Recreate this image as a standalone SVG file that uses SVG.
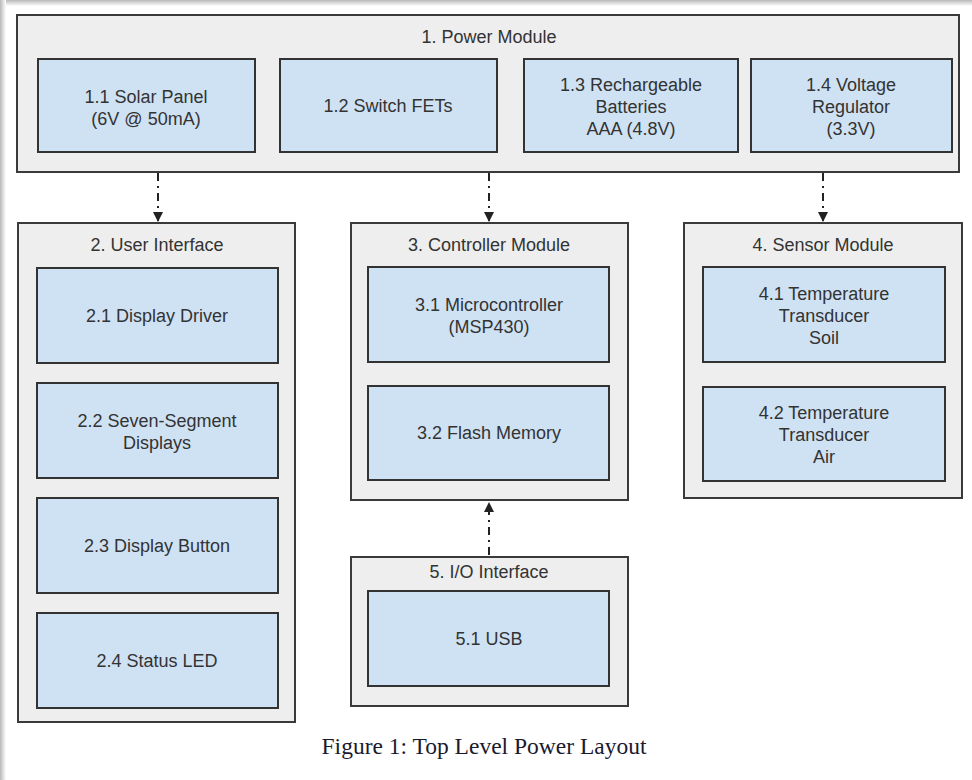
<svg xmlns="http://www.w3.org/2000/svg" width="972" height="780" viewBox="0 0 972 780">
<defs>
<linearGradient id="gTop" x1="0" y1="0" x2="0" y2="1"><stop offset="0" stop-color="#b8b8b8"/><stop offset="1" stop-color="#ffffff"/></linearGradient>
<linearGradient id="gLeft" x1="0" y1="0" x2="1" y2="0"><stop offset="0" stop-color="#b8b8b8"/><stop offset="1" stop-color="#ffffff"/></linearGradient>
<marker id="arr" viewBox="0 0 10 10" refX="9" refY="5" markerWidth="11" markerHeight="10" orient="auto-start-reverse" markerUnits="userSpaceOnUse">
<path d="M0,0 L10,5 L0,10 z" fill="#222"/>
</marker>
<style>
.outer{fill:#eeeeee;stroke:#3a3a3a;stroke-width:2}
.inner{fill:#cfe2f3;stroke:#333;stroke-width:2}
.t{font-family:"Liberation Sans",Arial,sans-serif;font-size:18px;fill:#333;text-anchor:middle}
.conn{stroke:#222;stroke-width:2;fill:none;stroke-dasharray:8,5,2,5}
.cap{font-family:"Liberation Serif","Times New Roman",serif;font-size:23.5px;fill:#1a1a2e;text-anchor:middle}
</style>
</defs>
<rect width="972" height="780" fill="#fff"/>
<rect x="0" y="0" width="972" height="6" fill="url(#gTop)"/>
<rect x="0" y="0" width="6" height="780" fill="url(#gLeft)"/>

<g id="power">
<rect class="outer" x="17" y="15" width="942" height="157"/>
<text class="t" x="489" y="43">1. Power Module</text>
</g>
<g id="n11"><rect class="inner" x="38" y="59" width="217" height="93"/>
<text class="t" x="146" y="103">1.1 Solar Panel</text><text class="t" x="146" y="125">(6V @ 50mA)</text></g>
<g id="n12"><rect class="inner" x="280" y="59" width="217" height="93"/>
<text class="t" x="388" y="112">1.2 Switch FETs</text></g>
<g id="n13"><rect class="inner" x="524" y="59" width="214" height="93"/>
<text class="t" x="631" y="91">1.3 Rechargeable</text><text class="t" x="631" y="113">Batteries</text><text class="t" x="631" y="135">AAA (4.8V)</text></g>
<g id="n14"><rect class="inner" x="751" y="59" width="201" height="93"/>
<text class="t" x="851" y="91">1.4 Voltage</text><text class="t" x="851" y="113">Regulator</text><text class="t" x="851" y="135">(3.3V)</text></g>

<g id="ui">
<rect class="outer" x="18" y="223" width="277" height="499"/>
<text class="t" x="157" y="251">2. User Interface</text>
</g>
<g id="n21"><rect class="inner" x="37" y="268" width="241" height="95"/><text class="t" x="157" y="322">2.1 Display Driver</text></g>
<g id="n22"><rect class="inner" x="37" y="383" width="241" height="95"/><text class="t" x="157" y="427">2.2 Seven-Segment</text><text class="t" x="157" y="449">Displays</text></g>
<g id="n23"><rect class="inner" x="37" y="498" width="241" height="95"/><text class="t" x="157" y="552">2.3 Display Button</text></g>
<g id="n24"><rect class="inner" x="37" y="613" width="241" height="95"/><text class="t" x="157" y="667">2.4 Status LED</text></g>

<g id="ctrl">
<rect class="outer" x="351" y="223" width="277" height="277"/>
<text class="t" x="489" y="251">3. Controller Module</text>
</g>
<g id="n31"><rect class="inner" x="368" y="267" width="241" height="95"/><text class="t" x="489" y="311">3.1 Microcontroller</text><text class="t" x="489" y="333">(MSP430)</text></g>
<g id="n32"><rect class="inner" x="368" y="386" width="241" height="94"/><text class="t" x="489" y="439">3.2 Flash Memory</text></g>

<g id="sensor">
<rect class="outer" x="684" y="223" width="278" height="275"/>
<text class="t" x="823" y="251">4. Sensor Module</text>
</g>
<g id="n41"><rect class="inner" x="703" y="267" width="242" height="95"/><text class="t" x="824" y="300">4.1 Temperature</text><text class="t" x="824" y="322">Transducer</text><text class="t" x="824" y="344">Soil</text></g>
<g id="n42"><rect class="inner" x="703" y="387" width="242" height="94"/><text class="t" x="824" y="419">4.2 Temperature</text><text class="t" x="824" y="441">Transducer</text><text class="t" x="824" y="463">Air</text></g>

<g id="io">
<rect class="outer" x="351" y="557" width="277" height="149"/>
<text class="t" x="489" y="578">5. I/O Interface</text>
</g>
<g id="n51"><rect class="inner" x="368" y="591" width="241" height="95"/><text class="t" x="489" y="645">5.1 USB</text></g>

<g id="connectors">
<line class="conn" x1="158" y1="173" x2="158" y2="221" marker-end="url(#arr)"/>
<line class="conn" x1="489" y1="173" x2="489" y2="221" marker-end="url(#arr)"/>
<line class="conn" x1="823" y1="173" x2="823" y2="221" marker-end="url(#arr)"/>
<line class="conn" x1="489" y1="555" x2="489" y2="503" marker-end="url(#arr)"/>
</g>

<text class="cap" x="484" y="754">Figure 1: Top Level Power Layout</text>
</svg>
